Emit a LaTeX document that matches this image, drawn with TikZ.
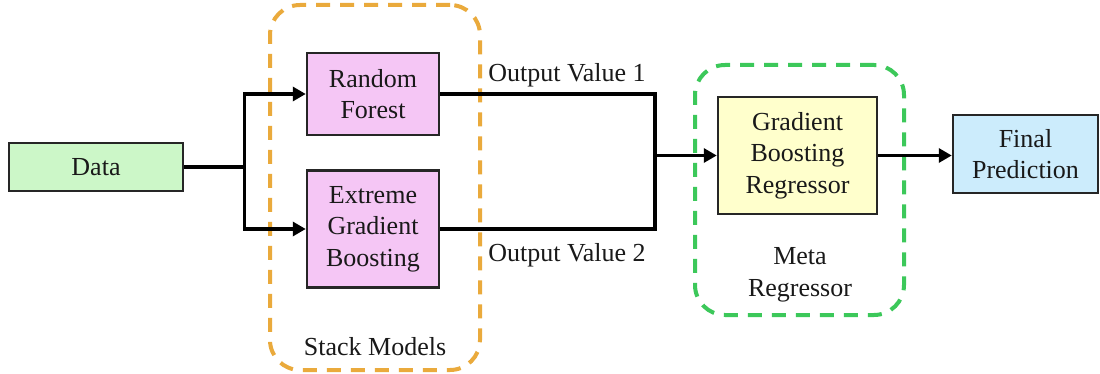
\documentclass[tikz,border=0pt]{standalone}
\usepackage{fontspec}
\setmainfont{Liberation Serif}
\usetikzlibrary{arrows.meta}
\definecolor{datagreen}{RGB}{204,247,200}
\definecolor{rfpink}{RGB}{245,198,245}
\definecolor{gbyellow}{RGB}{255,255,204}
\definecolor{finblue}{RGB}{204,236,252}
\definecolor{stackorange}{RGB}{234,170,60}
\definecolor{metagreen}{RGB}{60,200,90}
\begin{document}
\begin{tikzpicture}[x=1pt,y=-1pt,
  txt/.style={font=\fontsize{26}{31.5}\selectfont, align=center, text=black!90},
  box/.style={txt, draw=black!85, line width=2.5pt, inner sep=0pt},
  grp/.style={draw=#1, line width=4pt, dash pattern=on 14pt off 10pt, rounded corners=30pt, inner sep=0pt},
  conn/.style={draw=black, line width=3.5pt},
  arr/.style={conn, -{Triangle[length=13pt,width=14pt]}}]
\useasboundingbox (0,0) rectangle (1100,374);
\fill[white] (0,0) rectangle (1100,374);
% groups
\node[grp=stackorange, minimum width=210pt, minimum height=365pt] (stack) at (375,187.5) {};
\node[grp=metagreen, minimum width=209pt, minimum height=250pt] (meta) at (799.5,190) {};
% boxes
\node[box, fill=datagreen, minimum width=174pt, minimum height=48pt] (data) at (96,167) {Data};
\node[box, fill=rfpink, minimum width=132pt, minimum height=82pt] (rf) at (373,94) {Random\\Forest};
\node[box, fill=rfpink, minimum width=132pt, minimum height=117pt] (xgb) at (373,229) {Extreme\\Gradient\\Boosting};
\node[box, fill=gbyellow, minimum width=159pt, minimum height=117pt] (gbr) at (797.5,155.5) {Gradient\\Boosting\\Regressor};
\node[box, fill=finblue, minimum width=145pt, minimum height=78pt] (final) at (1025.5,154) {Final\\Prediction};
% labels
\node[txt] (lstack) at (375,347) {Stack Models};
\node[txt] (lmeta) at (800,275) {Meta\\Regressor};
\node[txt] (lo1) at (567,75) {Output Value 1};
\node[txt] (lo2) at (567,255) {Output Value 2};
% connectors
\coordinate (j) at (244.5,167);
\coordinate (c1) at (655,94);
\coordinate (c2) at (655,229);
\coordinate (c3) at (655,155.5);
\draw[conn] (data.east) -- (j);
\draw[arr] (j) |- (rf.west);
\draw[arr] (j) |- (xgb.west);
\draw[conn, line join=miter] (rf.east) -- (c1) -- (c2) -- (xgb.east);
\draw[arr] (c3) -- (gbr.west);
\draw[arr] (gbr.east) -- (gbr.east -| final.west);
\end{tikzpicture}
\end{document}
